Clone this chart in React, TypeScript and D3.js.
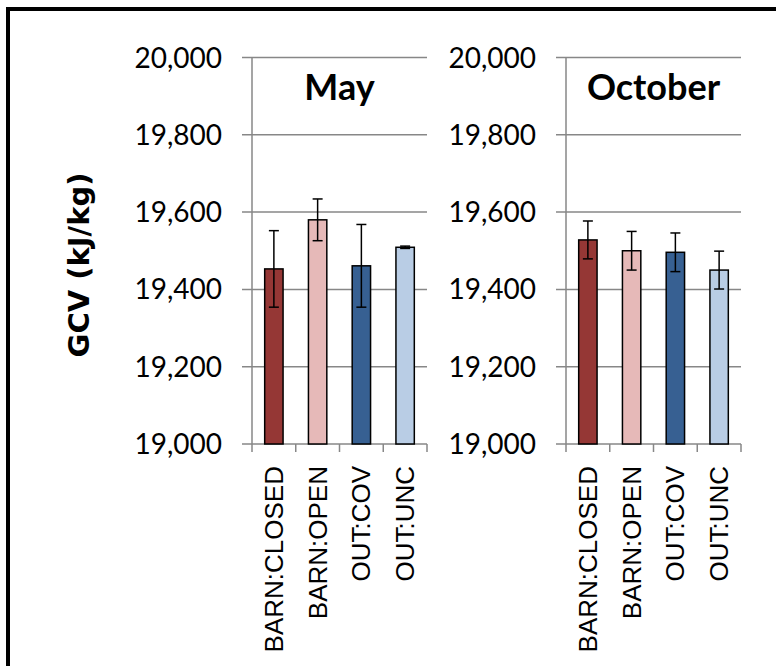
import React from "react";
import * as d3 from "d3";

const categories = ["BARN:CLOSED", "BARN:OPEN", "OUT:COV", "OUT:UNC"];
const panelTitles = ["May", "October"];
const mayValues = [19453, 19580, 19461, 19509];
const mayErrors = [99, 54, 107, 3];
const octValues = [19528, 19500, 19496, 19450];
const octErrors = [49, 50, 50, 49];
const yTicks = [19000, 19200, 19400, 19600, 19800, 20000];
const barColors = ["#953735", "#E6B9B8", "#376092", "#B9CDE5"];

const W = 776;
const H = 666;
const yTop = 57.5;
const yBottom = 444;
const panelX = [
  [252, 427],
  [566, 741],
];
const gridColor = "#878787";

const y = d3.scaleLinear().domain([19000, 20000]).range([yBottom, yTop]);
const fmt = d3.format(",");

function Panel({ idx, values, errors }: { idx: number; values: number[]; errors: number[] }) {
  const [x0, x1] = panelX[idx];
  const x = d3.scaleBand<string>().domain(categories).range([x0, x1]).padding(0);
  const bw = x.bandwidth() * 0.42;
  const cap = 10;
  return (
    <g>
      {yTicks.map((t) => (
        <g key={t}>
          <line x1={x0 - 10} x2={x1} y1={y(t)} y2={y(t)} stroke={gridColor} strokeWidth={1.5} />
          <text
            x={x0 - 30}
            y={y(t)}
            dy="0.36em"
            textAnchor="end"
            fontFamily="Lato, sans-serif"
            fontSize={28}
            fill="#000"
          >
            {fmt(t)}
          </text>
        </g>
      ))}
      <line x1={x0} x2={x0} y1={yTop} y2={yBottom + 8} stroke={gridColor} strokeWidth={1.5} />
      {categories.map((c, i) => (
        <line
          key={"t" + c}
          x1={(x(c) as number) + x.bandwidth()}
          x2={(x(c) as number) + x.bandwidth()}
          y1={yBottom}
          y2={yBottom + 8}
          stroke={gridColor}
          strokeWidth={1.5}
        />
      ))}
      {categories.map((c, i) => {
        const cx = (x(c) as number) + x.bandwidth() / 2;
        return (
          <g key={c}>
            <rect
              x={cx - bw / 2}
              y={y(values[i])}
              width={bw}
              height={yBottom - y(values[i])}
              fill={barColors[i]}
              stroke="#000"
              strokeWidth={1.5}
            />
            <line x1={cx} x2={cx} y1={y(values[i] + errors[i])} y2={y(values[i] - errors[i])} stroke="#000" strokeWidth={1.5} />
            <line x1={cx - cap / 2} x2={cx + cap / 2} y1={y(values[i] + errors[i])} y2={y(values[i] + errors[i])} stroke="#000" strokeWidth={1.5} />
            <line x1={cx - cap / 2} x2={cx + cap / 2} y1={y(values[i] - errors[i])} y2={y(values[i] - errors[i])} stroke="#000" strokeWidth={1.5} />
            <text
              transform={`translate(${cx},466) rotate(-90)`}
              dy="0.35em"
              textAnchor="end"
              fontFamily="'Liberation Sans', Arial, sans-serif"
              fontSize={26}
              fill="#000"
            >
              {c}
            </text>
          </g>
        );
      })}
      <text
        x={(x0 + x1) / 2}
        y={100}
        textAnchor="middle"
        fontFamily="Lato, sans-serif"
        fontWeight="bold"
        fontSize={36}
        fill="#000"
      >
        {panelTitles[idx]}
      </text>
    </g>
  );
}

export default function App() {
  return (
    <svg
      width={W}
      height={H}
      viewBox={`0 0 ${W} ${H}`}
      style={{ position: "absolute", left: 0, top: 0, background: "#fff" }}
    >
      <rect x={0} y={0} width={W} height={H} fill="#fff" />
      <rect x={8} y={9} width={820} height={720} fill="none" stroke="#000" strokeWidth={4} />
      <text
        transform={`translate(79,265) rotate(-90)`}
        dy="0.35em"
        textAnchor="middle"
        fontFamily="'DejaVu Sans', sans-serif"
        fontWeight="bold"
        fontSize={29}
        fill="#000"
      >
        GCV (kJ/kg)
      </text>
      <Panel idx={0} values={mayValues} errors={mayErrors} />
      <Panel idx={1} values={octValues} errors={octErrors} />
    </svg>
  );
}
